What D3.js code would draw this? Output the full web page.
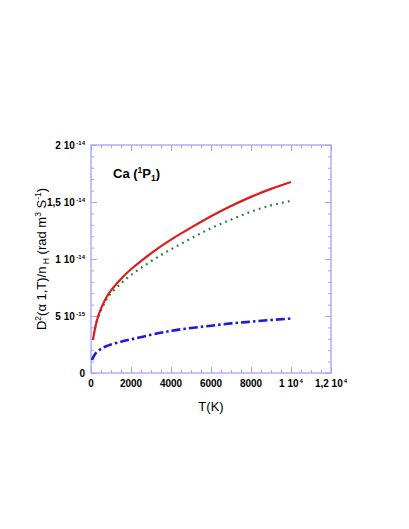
<!DOCTYPE html>
<html>
<head>
<meta charset="utf-8">
<script src="https://cdn.jsdelivr.net/npm/d3@7"></script>
<style>
  body { margin: 0; background: #fff; }
  svg { display: block; font-family: "Liberation Sans", Arial, Helvetica, sans-serif; }
</style>
</head>
<body>
<svg id="chart" width="409" height="529"></svg>
<script>
// temperatures (K)
let temps = [100, 200, 400, 700, 1000, 1500, 2000, 3000, 4000, 5000, 6000, 7000, 8000, 9000, 10000];
// values in units of 1e-15 rad m^3 s^-1
let redVals   = [2.9, 3.9, 5.2, 6.4, 7.25, 8.25, 9.1, 10.5, 11.7, 12.75, 13.75, 14.65, 15.45, 16.15, 16.75];
let greenVals = [2.9, 3.9, 5.1, 6.2, 7.0, 7.85, 8.6, 9.8, 10.85, 11.8, 12.7, 13.45, 14.15, 14.7, 15.1];
let blueTemps = [50, 100, 200, 400, 700, 1000, 1500, 2000, 3000, 4000, 5000, 6000, 7000, 8000, 9000, 10000];
let blueVals  = [1.15, 1.35, 1.65, 2.0, 2.3, 2.5, 2.75, 2.95, 3.35, 3.7, 3.95, 4.15, 4.35, 4.5, 4.65, 4.78];

let xTicks = [0, 2000, 4000, 6000, 8000, 10000, 12000];
let xTickLabels = [["0", ""], ["2000", ""], ["4000", ""], ["6000", ""], ["8000", ""], ["1 10", "4"], ["1,2 10", "4"]];
let yTicks = [0, 5e-15, 1e-14, 1.5e-14, 2e-14];
let yTickLabels = [["0", ""], ["5 10", "-15"], ["1 10", "-14"], ["1,5 10", "-14"], ["2 10", "-14"]];

let plotLeft = 91, plotRight = 331, plotTop = 145, plotBottom = 373;
let frameColor = "#a3a3ee";

let x = d3.scaleLinear().domain([0, 12000]).range([plotLeft, plotRight]);
let y = d3.scaleLinear().domain([0, 2e-14]).range([plotBottom, plotTop]);

let chart = d3.select("#chart");

// minor + major ticks on all four sides, pointing inward
function tickAxes() {
  let xMinor = d3.range(0, 12001, 500);
  let yMinor = d3.range(0, 21).map(d => d * 1e-15);
  let specs = [
    [() => d3.axisBottom(x), `translate(0,${plotBottom})`, xMinor, xTicks],
    [() => d3.axisTop(x), `translate(0,${plotTop})`, xMinor, xTicks],
    [() => d3.axisLeft(y), `translate(${plotLeft},0)`, yMinor, yTicks],
    [() => d3.axisRight(y), `translate(${plotRight},0)`, yMinor, yTicks]
  ];
  specs.forEach(([mk, tr, minor, major]) => {
    [[minor, -3], [major, -6]].forEach(([vals, size]) => {
      let g = chart.append("g")
        .attr("transform", tr)
        .call(mk().tickValues(vals).tickSize(size).tickFormat(""));
      g.select(".domain").remove();
      g.selectAll("line").attr("stroke", frameColor).attr("stroke-width", 1);
    });
  });
}
tickAxes();

chart.append("rect")
  .attr("x", plotLeft).attr("y", plotTop)
  .attr("width", plotRight - plotLeft).attr("height", plotBottom - plotTop)
  .attr("fill", "none").attr("stroke", frameColor).attr("stroke-width", 1.3);

// tick labels
let xl = chart.append("g").attr("font-size", 10).attr("font-weight", "bold");
xTicks.forEach((t, i) => {
  let txt = xl.append("text")
    .attr("x", x(t)).attr("y", plotBottom + 14)
    .attr("text-anchor", "middle");
  txt.append("tspan").text(xTickLabels[i][0]);
  if (xTickLabels[i][1]) {
    txt.append("tspan").attr("font-size", 6).attr("dy", -4).attr("dx", 1).text(xTickLabels[i][1]);
  }
});

let yl = chart.append("g").attr("font-size", 10).attr("font-weight", "bold");
yTicks.forEach((t, i) => {
  let txt = yl.append("text")
    .attr("x", 85).attr("y", y(t) + 3.5)
    .attr("text-anchor", "end");
  txt.append("tspan").text(yTickLabels[i][0]);
  if (yTickLabels[i][1]) {
    txt.append("tspan").attr("font-size", 6).attr("dy", -4).attr("dx", 1.5).text(yTickLabels[i][1]);
  }
});

// curves
let line = d3.line()
  .x(d => x(d[0]))
  .y(d => y(d[1] * 1e-15))
  .curve(d3.curveNatural);

let series = [
  { pts: d3.zip(temps, greenVals), color: "#2a7a3a", width: 2.2, dash: "1.8,4.2" },
  { pts: d3.zip(temps, redVals), color: "#e01b1b", width: 2.2, dash: null },
  { pts: d3.zip(blueTemps, blueVals), color: "#1a1adc", width: 2.6, dash: "9,3,2.5,3" }
];
series.forEach(s => {
  chart.append("path")
    .datum(s.pts)
    .attr("d", line)
    .attr("fill", "none")
    .attr("stroke", s.color)
    .attr("stroke-width", s.width)
    .attr("stroke-dasharray", s.dash);
});

// title inside the plot
let title = chart.append("text")
  .attr("x", 113).attr("y", 178)
  .attr("font-size", 13).attr("font-weight", "bold");
title.append("tspan").text("Ca (");
title.append("tspan").attr("font-size", 8.5).attr("dy", -5).text("1");
title.append("tspan").attr("dy", 5).text("P");
title.append("tspan").attr("font-size", 8.5).attr("dy", 3).text("1");
title.append("tspan").attr("dy", -3).text(")");

// axis titles
chart.append("text")
  .attr("x", 211).attr("y", 411)
  .attr("text-anchor", "middle")
  .attr("font-size", 13)
  .text("T(K)");

let yt = chart.append("text")
  .attr("transform", "translate(46,259) rotate(-90)")
  .attr("text-anchor", "middle")
  .attr("font-size", 13);
yt.append("tspan").text("D");
yt.append("tspan").attr("font-size", 8.5).attr("dy", -5).text("2");
yt.append("tspan").attr("dy", 5).text("(\u03b1 1,T)/n");
yt.append("tspan").attr("font-size", 8.5).attr("dy", 3).text(" H");
yt.append("tspan").attr("dy", -3).text(" (rad m");
yt.append("tspan").attr("font-size", 8.5).attr("dy", -5).text("3");
yt.append("tspan").attr("dy", 5).text(" S");
yt.append("tspan").attr("font-size", 8.5).attr("dy", -5).text("-1");
yt.append("tspan").attr("dy", 5).text(")");
</script>
</body>
</html>
